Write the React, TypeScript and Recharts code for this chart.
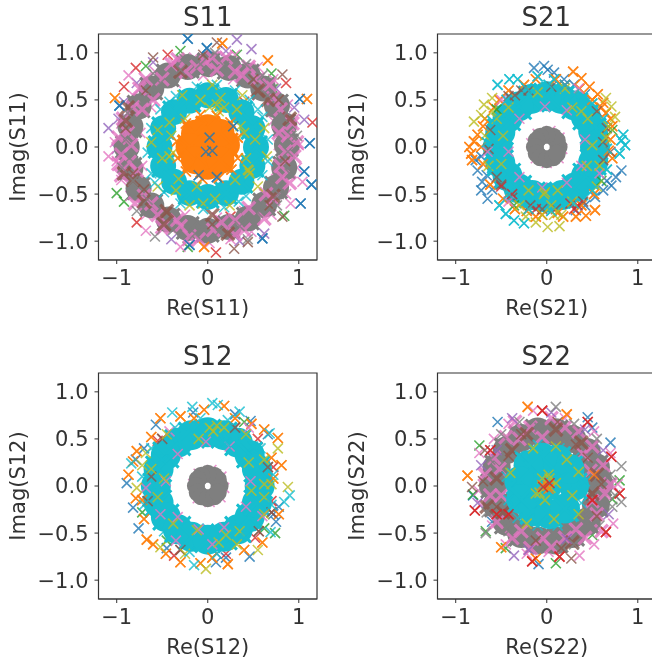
import { ReferenceArea, Scatter, ScatterChart, XAxis, YAxis } from "recharts"

type Pair = [number, number]

const xTicks = [-1, 0, 1]
const yTicks = [-1, -0.5, 0, 0.5, 1]

// The solid bands in the picture are thousands of overlapping crosses. The *Band arrays
// are read-off centres of those saturated areas, drawn as fat blobs under the crosses,
// and the *Dense arrays are heavier crosses for the colour patches inside them.

// S11
const s11GrayBand: Pair[] = [[.87,.02],[.84,.23],[.76,.44],[.61,.62],[.44,.76],[.23,.84],[.01,.88],[-.22,.85],[-.44,.76],[-.62,.62],[-.76,.43],[-.85,.22],[-.89,0],[-.85,-.23],[-.76,-.44],[-.62,-.62],[-.43,-.77],[-.22,-.86],[0,-.89],[.23,-.85],[.44,-.76],[.62,-.61],[.75,-.43],[.84,-.22]]
const s11PinkDense: Pair[] = [[.68,.66],[.2,.95],[-.33,.93],[-.75,.62],[-.98,.1],[-.95,-.08],[-.8,-.6],[-.5,-.85],[-.1,-.98],[.3,-.93],[.62,-.76],[.95,-.1],[.93,.25],[-.93,.3],[.3,.8],[-.5,.72],[.9,-.38],[-.3,-.84],[.8,.4],[.55,.72],[.1,.82],[-.12,.85],[-.6,.5],[-.88,.15],[-.78,-.25],[-.7,-.52],[-.2,-.95],[.15,-.8],[.45,-.65],[.72,-.55],[.85,-.05],[.78,.15],[-.95,-.3],[-.4,.88],[.45,.85],[-.55,-.72],[.4,-.88],[.98,.05],[-.82,.42],[.05,.95],[-.68,.72],[.82,-.32],[-.98,-.18],[.88,.12],[.72,.52],[.38,.76],[-.02,.9],[-.24,.8],[-.72,.4],[-.84,.02],[-.86,-.16],[-.62,-.6],[-.34,-.78],[.06,-.88],[.3,-.78],[.64,-.5],[.8,-.2]]
const s11BrownDense: Pair[] = [[-.82,-.35],[-.7,-.58],[-.88,.42],[-.9,.28],[-.48,-.82],[.05,-.72],[.55,.6],[.72,-.52],[-.3,.8],[.9,.3],[-.92,-.28],[-.45,-.68],[.22,-.92],[.66,.5]]
const s11CyanBand: Pair[] = [[.53,0],[.49,.2],[.37,.37],[.2,.5],[0,.55],[-.2,.49],[-.37,.37],[-.49,.2],[-.53,0],[-.49,-.2],[-.37,-.37],[-.2,-.49],[0,-.53],[.2,-.49],[.37,-.37],[.49,-.2]]
const s11OrangeBand: Pair[] = [[0,0],[.2,.02],[.14,.15],[0,.2],[-.14,.14],[-.2,0],[-.14,-.14],[0,-.2],[.14,-.14]]
const s11Pink: Pair[] = [[.95,.3],[.88,.45],[.72,.72],[.55,.85],[.3,.98],[.1,.96],[-.15,.95],[-.38,.9],[-.58,.8],[-.82,.55],[-.95,.25],[-1.02,.05],[-1,-.15],[-.95,-.35],[-.85,-.52],[-.68,-.72],[-.5,-.88],[-.22,-1],[.02,-1.02],[.25,-.98],[.48,-.9],[.7,-.72],[.86,-.5],[.98,-.22],[1,.02],[.78,.02],[.75,-.25],[.62,-.5],[.4,-.68],[.1,-.75],[-.25,-.72],[-.55,-.55],[-.72,-.2],[-.74,.15],[-.62,.42],[-.35,.68],[-.05,.76],[.28,.72],[.55,.55],[.72,.28],[-.87,.76],[-.68,-.89],[-.3,-1.06],[.91,-.6],[1.04,-.37],[-1.09,-.1]]
const s11Gray: Pair[] = [[.92,.12],[.82,.32],[.66,.55],[.42,.88],[.18,.86],[-.08,.88],[-.3,.82],[-.52,.68],[-.7,.52],[-.88,.36],[-.9,.08],[-.86,-.12],[-.82,-.36],[-.66,-.56],[-.38,-.88],[-.14,-.92],[.12,-.9],[.35,-.84],[.55,-.7],[.78,-.5],[.9,-.28],[.88,-.05],[-.6,.78],[.6,.76],[-.78,-.68],[.76,-.62],[.98,.12],[-.94,-.22],[.08,1],[-.26,.94],[.44,-.98],[-.58,-.95]]
const s11Brown: Pair[] = [[.78,.5],[.5,.72],[-.05,.98],[-.6,.95],[-.68,.6],[-.9,.2],[-.82,-.28],[-.7,-.45],[-.45,-.7],[.1,1.11],[.05,-.82],[.29,-1.08],[.44,-1.01],[.68,-.62],[.82,-.74],[.85,-.15],[.82,.77]]
const s11Purple: Pair[] = [[.32,1.14],[.48,1.04],[-1.09,.2],[-.6,.9],[.95,.42],[-1,-.02],[.35,-1],[-.78,.68],[-.92,.48],[.75,.62],[1.06,.29],[-.4,-.98],[.62,-.92],[-.98,.3],[-.72,.42],[.2,1.02]]
const s11Olive: Pair[] = [[.1,.45],[.18,.42],[-.08,.5],[-.25,.3],[.32,.4],[.4,.15],[.42,-.12],[.45,-.25],[.3,-.35],[.08,-.55],[-.12,-.42],[-.32,-.34],[-.42,-.1],[-.4,.12],[-.55,.18],[-.28,.55],[.05,.66],[.38,.55],[.62,.2],[.65,-.1],[.55,-.42],[.24,-.62],[-.2,-.62],[-.55,-.42],[-.62,.05],[-.38,-.06],[.12,.38],[.02,.42],[.14,.52],[-.42,.26],[-.5,-.12],[.46,-.28],[.44,-.24],[.36,.22],[-.35,-.46],[-.05,-.6],[.52,.08]]
const s11Cyan: Pair[] = [[.66,.08],[.66,-.15],[.6,.32],[.46,.5],[.3,.6],[.1,.66],[-.12,.64],[-.35,.54],[-.52,.4],[-.62,.2],[-.66,-.06],[-.62,-.28],[-.48,-.48],[-.3,-.6],[-.05,-.66],[.18,-.64],[.42,-.52],[.6,-.3],[.55,.4],[-.58,-.38],[.34,-.58],[-.42,.48]]
const s11Orange: Pair[] = [[.33,.1],[.33,-.12],[.25,.26],[.1,.33],[-.08,.34],[-.24,.25],[-.34,.06],[-.33,-.12],[-.24,-.26],[-.06,-.34],[.12,-.33],[.26,-.24],[.16,1.1],[1.09,.51],[-1.02,.52],[-.04,-1.06],[.66,.92]]
const s11Blue: Pair[] = [[-.22,1.15],[-.01,1.05],[-.97,.44],[.6,-.97],[1.02,-.6],[1.14,-.4],[1.06,-.26],[1.12,.04],[1.01,.51],[.02,.1],[-.02,-.05],[.05,-.04],[.28,.22],[-.1,-.3],[.1,-.32],[-.2,-1.04]]
const s11Green: Pair[] = [[-.68,.86],[-1,-.49],[-.92,-.58],[-.22,-1.06],[.84,-.73],[.7,.78],[.32,.98],[.72,.62],[-.3,1.02]]
const s11Red: Pair[] = [[-.44,.98],[-.79,.84],[-.92,.64],[-.78,-.8],[.09,-1.12],[.86,.68],[1.15,.26],[-.25,.78],[.4,.48],[.25,-.74]]

// S21
const s21GrayBand: Pair[] = [[.13,0],[.11,.07],[.07,.11],[0,.13],[-.07,.11],[-.11,.07],[-.13,0],[-.11,-.07],[-.07,-.11],[0,-.13],[.07,-.11],[.11,-.07]]
const s21CyanBand: Pair[] = [[.53,0],[.51,.17],[.43,.32],[.31,.44],[.16,.51],[0,.54],[-.17,.51],[-.31,.43],[-.43,.31],[-.51,.16],[-.54,0],[-.51,-.17],[-.43,-.31],[-.31,-.44],[-.16,-.51],[0,-.54],[.17,-.51],[.31,-.43],[.43,-.31],[.51,-.16]]
const s21Pink: Pair[] = [[.14,.1],[.04,.17],[-.1,.14],[-.17,.04],[-.12,-.12],[0,-.17],[.13,-.12],[.17,-.02],[-.02,.43],[.22,.39],[-.3,.3],[-.42,-.05],[-.3,-.32],[-.05,-.43],[.22,-.38],[.38,-.2],[.42,.08],[-.65,-.05],[-.5,.5],[.35,.62],[.58,-.28],[-.42,-.58]]
const s21Olive: Pair[] = [[-.8,.27],[-.72,.34],[-.69,.45],[-.6,.52],[.65,.52],[.71,.43],[.75,.32],[.01,-.85],[.14,-.84],[-.12,-.8],[-.23,-.74],[-.55,.3],[-.68,.12],[-.64,-.2],[.65,.1],[.58,-.2],[.45,.3],[.2,.62],[-.1,.58],[-.42,.42],[-.02,-.48],[-.03,-.5],[.28,-.58],[-.3,-.62],[.08,-.72],[.68,.22],[.5,.02],[.44,-.2],[.28,.42],[-.48,.12],[-.5,-.18],[-.2,-.46],[.12,-.46],[.38,.38],[.55,-.42],[-.6,.38],[.05,-.62],[-.05,-.72],[.16,-.72]]
const s21Orange: Pair[] = [[-.83,-.07],[-.85,0],[-.8,.06],[-.82,-.14],[-.76,.13],[.29,.8],[.38,.73],[.47,.64],[.56,.56],[.62,.47],[.65,.36],[.53,-.67],[.43,-.73],[.32,-.74],[.18,-.74],[-.05,-.72],[-.22,-.68],[-.68,.3],[-.58,.42],[-.42,.6],[-.25,.66],[.7,.08],[.72,-.12],[-.48,-.55],[-.7,.22],[-.72,0],[-.7,-.18],[.72,.22],[.7,.3],[.6,.42],[.5,.5],[.36,.62],[.1,.72],[-.12,.72],[.52,-.5],[.38,-.62],[.12,-.7],[-.12,-.74],[-.35,-.66],[-.62,-.4],[-.52,.5],[.68,-.04]]
const s21Blue: Pair[] = [[-.14,.84],[-.03,.86],[.08,.79],[.19,.72],[.01,.82],[.82,-.25],[.76,-.32],[.71,-.41],[.62,-.46],[.53,-.53],[.42,-.62],[.32,-.67],[-.65,-.55],[-.72,-.46],[-.71,-.37],[-.76,-.25],[-.78,-.14],[-.72,-.1],[.3,.66],[.42,.56],[-.66,-.3],[-.6,-.45],[.66,-.36]]
const s21Cyan: Pair[] = [[.84,.13],[.86,.02],[.8,-.07],[.82,.07],[-.25,-.81],[-.36,-.78],[-.45,-.71],[-.52,-.62],[-.54,.66],[-.41,.72],[-.32,.72],[-.1,.75],[.08,.72],[.2,.66],[.5,.46],[.62,.3],[.66,-.02],[.66,-.24],[.5,-.46],[.3,-.6],[.05,-.68],[-.2,-.66],[-.42,-.5],[-.6,-.22],[-.66,.05],[-.6,.28],[-.44,.5],[-.22,.62],[.02,.66],[-.12,.62],[.3,.56],[.14,.6]]
const s21Brown: Pair[] = [[-.35,.55],[.62,.05],[.7,-.05],[-.5,-.4],[-.18,-.62],[.1,-.66],[-.62,.18],[.55,.38],[.05,.64],[-.2,.6],[-.42,.54],[-.28,.6],[.66,.2],[.62,-.14],[.4,-.58],[-.05,-.66],[-.55,-.32],[-.38,-.54],[-.64,-.02]]
const s21Red: Pair[] = [[.3,-.66],[.26,-.6],[-.12,-.66],[-.38,-.5],[.2,.66],[.34,-.62],[-.5,-.42]]
const s21Green: Pair[] = [[.72,.18],[-.55,.4],[.6,-.36],[-.36,-.62]]

// S12
const s12GrayBand: Pair[] = [[.13,0],[.11,.07],[.07,.11],[0,.13],[-.07,.11],[-.11,.07],[-.13,0],[-.11,-.07],[-.07,-.11],[0,-.13],[.07,-.11],[.11,-.07]]
const s12CyanBand: Pair[] = [[.57,0],[.54,.18],[.46,.33],[.33,.46],[.18,.54],[0,.57],[-.18,.54],[-.33,.46],[-.46,.33],[-.54,.18],[-.57,0],[-.54,-.18],[-.46,-.33],[-.33,-.46],[-.18,-.54],[0,-.57],[.18,-.54],[.33,-.46],[.46,-.33],[.54,-.18]]
const s12Pink: Pair[] = [[.15,.1],[.04,.17],[-.1,.13],[-.16,.02],[-.11,-.13],[.02,-.17],[.14,-.12],[.18,-.02],[-.02,.47],[.24,.42],[-.33,.34],[-.46,.05],[-.33,-.33],[-.1,-.46],[.18,-.44],[.42,-.22],[.47,.05],[-.68,-.02],[-.42,.58],[.45,.62],[.6,-.32],[-.35,-.58],[.05,-.62],[-.52,-.3]]
const s12Olive: Pair[] = [[.77,.4],[.88,-.01],[.55,-.68],[-.02,-.88],[-.52,-.65],[-.62,.18],[-.68,.35],[-.45,.55],[.02,.62],[.18,.62],[.42,.55],[.62,.28],[.62,-.12],[.62,-.3],[.35,-.48],[.12,-.6],[-.12,-.47],[-.55,-.12],[-.78,-.02],[-.72,.22],[.7,.02],[.32,-.62],[-.25,-.72],[.1,.64],[.06,.58],[.45,.25],[.48,-.05],[-.48,.08],[-.38,-.4],[.2,-.52],[-.1,.5],[.62,.02]]
const s12Orange: Pair[] = [[-.78,.37],[-.87,.12],[-.82,.26],[-.79,-.13],[-.67,-.57],[-.7,-.35],[-.52,.72],[-.04,.81],[.18,.85],[.77,.51],[.81,.22],[.22,-.83],[-.3,-.81],[-.3,.74],[-.62,.52],[.3,.72],[.62,.6],[.7,.3],[.78,-.3],[.6,-.6],[-.08,-.82],[-.6,-.62],[-.72,-.15],[-.15,.72],[.48,.66],[.72,.08],[.4,-.68],[-.46,-.72],[.05,-.76]]
const s12Blue: Pair[] = [[-.89,.03],[-.82,-.23],[-.76,-.45],[-.57,.65],[-.79,.28],[.47,.69],[.46,-.75],[.09,-.81],[.72,-.3],[.66,.55],[-.16,.78],[.3,.76],[.75,-.38],[-.45,-.66],[-.7,.4],[.1,-.72],[.2,-.76],[.78,-.22]]
const s12Cyan: Pair[] = [[-.39,.78],[-.17,.84],[.05,.88],[.11,.86],[.35,.79],[.68,.56],[.9,-.1],[.84,-.17],[-.15,-.84],[-.84,.24],[.69,-.49],[.58,.4],[.72,.12],[.7,-.2],[.42,-.55],[.1,-.72],[-.2,-.7],[-.48,-.48],[-.7,-.2],[-.72,.1],[-.62,.4],[-.36,.62],[-.08,.72],[.22,.7],[.2,.46],[.5,.42],[-.5,.28]]
const s12Red: Pair[] = [[-.37,-.74],[.2,-.72],[.72,.2],[.7,-.16],[.52,-.55],[-.55,.48],[.55,.5]]
const s12Green: Pair[] = [[.74,-.5],[-.72,-.28],[.4,.68],[-.45,-.58],[.62,-.45]]
const s12Brown: Pair[] = [[.66,.2],[.7,-.28],[-.62,.1],[-.3,-.68],[.3,.62],[-.5,.5],[.56,-.48],[-.66,-.16]]

// S22
const s22GrayBand: Pair[] = [[.58,.02],[.54,.2],[.44,.36],[.28,.5],[.1,.57],[-.1,.58],[-.28,.51],[-.44,.38],[-.55,.2],[-.59,0],[-.55,-.2],[-.44,-.38],[-.28,-.51],[-.1,-.58],[.1,-.58],[.28,-.51],[.44,-.38],[.54,-.2]]
const s22PinkDense: Pair[] = [[.5,.42],[.2,.62],[-.18,.62],[-.58,.3],[-.62,-.1],[-.38,-.55],[.05,-.65],[.42,-.55],[.64,-.08],[.62,.22],[-.45,.52],[.35,.58],[-.05,.52],[.55,-.3],[-.55,-.38],[.2,-.55],[-.18,-.66],[.6,-.48],[-.68,.12],[.7,.02],[-.35,.68],[.05,.72],[.48,.16],[.4,.34],[-.3,.5],[-.52,.18],[-.5,-.1],[-.28,-.48],[-.04,-.56],[.32,-.46],[.5,-.16]]
const s22BrownDense: Pair[] = [[-.55,.08],[-.48,-.28],[.5,-.08],[.55,.12],[.28,-.6],[-.22,.55],[.1,.6],[-.66,-.22],[.38,.46],[-.38,.38]]
const s22CyanBand: Pair[] = [[.3,0],[.25,.18],[.12,.28],[-.05,.3],[-.2,.22],[-.3,.05],[-.28,-.14],[-.15,-.27],[.03,-.3],[.2,-.24],[0,0]]
const s22Pink: Pair[] = [[-.74,.35],[-.68,.15],[-.72,-.2],[-.6,-.42],[-.45,-.62],[-.22,-.72],[.36,-.74],[.73,-.4],[.78,.02],[.7,.35],[.52,.58],[.2,.72],[-.15,.8],[-.42,.66],[-.58,.5],[.52,-.62],[.62,-.28],[.02,-.7],[.42,-.32],[-.32,.42],[-.75,-.05]]
const s22Gray: Pair[] = [[.1,.84],[.82,.21],[.82,-.17],[-.67,-.5],[-.66,-.28],[-.62,.28],[.7,.12],[.72,-.22],[.55,.5],[.3,.66],[-.3,.68],[-.5,.55],[-.42,-.48],[.3,-.62],[.58,-.42],[-.08,.62],[.75,-.1]]
const s22Brown: Pair[] = [[-.82,-.01],[.27,-.77],[-.7,.05],[-.55,-.22],[.55,-.32],[.6,.02],[.45,.3],[.12,.68],[-.28,.55],[-.12,-.58],[.16,-.66],[-.68,.38],[.32,.44],[-.42,.32]]
const s22Purple: Pair[] = [[-.36,-.74],[-.76,-.18],[-.72,.22],[-.55,.38],[-.38,.72],[.05,.78],[.42,.6],[.68,-.3],[.22,-.56],[-.2,-.68],[.62,.38]]
const s22Olive: Pair[] = [[-.08,-.07],[-.12,-.08],[.03,.08],[.02,.12],[.04,-.02],[.1,.03],[-.02,-.15],[.1,.42],[-.15,.4],[.28,-.1],[-.4,.14],[.22,.28],[-.22,-.4],[.35,.15],[.08,-.35],[-.05,.08],[.35,-.3]]
const s22Cyan: Pair[] = [[.42,.05],[.38,-.18],[.3,.3],[.14,.4],[-.1,.44],[-.3,.32],[-.44,.1],[-.42,-.15],[-.32,-.34],[-.1,-.42],[.12,-.42],[.3,-.32]]
const s22Orange: Pair[] = [[-.87,.11],[-.21,.84],[-.5,-.65],[.01,0],[.02,-.03],[-.05,.01],[.22,.76],[-.12,-.77],[.52,.12]]
const s22Red: Pair[] = [[-.05,.8],[-.79,-.26],[-.16,-.8],[.65,-.49],[.71,.31],[.5,-.15],[-.04,-.01],[-.55,-.3],[.45,.68],[.8,-.08],[-.62,.38],[-.42,-.3],[.14,-.75],[.03,.03]]
const s22Blue: Pair[] = [[-.54,.68],[.45,.73],[-.09,-.83],[.7,.46],[-.81,-.1],[.5,.62],[-.6,-.38]]
const s22Green: Pair[] = [[-.74,.43],[.8,.06],[-.81,-.09],[.1,-.82],[-.67,-.48],[-.45,-.66],[.5,-.52],[.72,-.14],[-.02,-.66],[-.42,.5]]

const BLUE = "#1f77b4", ORANGE = "#ff7f0e", GREEN = "#2ca02c", RED = "#d62728", PURPLE = "#9467bd"
const BROWN = "#8c564b", PINK = "#e377c2", GRAY = "#7f7f7f", OLIVE = "#bcbd22", CYAN = "#17becf"

type Layer = { points: Pair[]; color: string; blob?: number; heavy?: boolean; smooth?: boolean }

const panels: { name: string; left: number; top: number; layers: Layer[] }[] = [
  {
    name: "S11", left: 0, top: 0,
    layers: [
      { points: s11Blue, color: BLUE }, { points: s11Orange, color: ORANGE }, { points: s11Green, color: GREEN }, { points: s11Red, color: RED },
      { points: s11Purple, color: PURPLE }, { points: s11Pink, color: PINK }, { points: s11GrayBand, color: GRAY, blob: 13 },
      { points: s11PinkDense, color: PINK, heavy: true }, { points: s11BrownDense, color: BROWN, heavy: true },
      { points: s11Brown, color: BROWN }, { points: s11Gray, color: GRAY },
      { points: s11CyanBand, color: CYAN, blob: 13 }, { points: s11Olive, color: OLIVE }, { points: s11Cyan, color: CYAN },
      { points: s11OrangeBand, color: ORANGE, blob: 14 }, { points: s11Orange, color: ORANGE }, { points: s11Blue, color: BLUE },
    ],
  },
  {
    name: "S21", left: 338.5, top: 0,
    layers: [
      { points: s21Blue, color: BLUE }, { points: s21Orange, color: ORANGE }, { points: s21Cyan, color: CYAN },
      { points: s21CyanBand, color: CYAN, blob: 15 }, { points: s21Orange, color: ORANGE }, { points: s21Brown, color: BROWN }, { points: s21Green, color: GREEN }, { points: s21Red, color: RED },
      { points: s21Pink, color: PINK }, { points: s21Olive, color: OLIVE }, { points: s21Cyan, color: CYAN }, { points: s21GrayBand, color: GRAY, blob: 9, smooth: true },
    ],
  },
  {
    name: "S12", left: 0, top: 339,
    layers: [
      { points: s12Blue, color: BLUE }, { points: s12Orange, color: ORANGE }, { points: s12Green, color: GREEN }, { points: s12Red, color: RED },
      { points: s12Brown, color: BROWN }, { points: s12CyanBand, color: CYAN, blob: 15 }, { points: s12Orange, color: ORANGE }, { points: s12Brown, color: BROWN },
      { points: s12Pink, color: PINK }, { points: s12Olive, color: OLIVE }, { points: s12Cyan, color: CYAN }, { points: s12GrayBand, color: GRAY, blob: 9, smooth: true },
    ],
  },
  {
    name: "S22", left: 338.5, top: 339,
    layers: [
      { points: s22Blue, color: BLUE }, { points: s22Green, color: GREEN }, { points: s22Orange, color: ORANGE }, { points: s22Pink, color: PINK }, { points: s22GrayBand, color: GRAY, blob: 14 },
      { points: s22PinkDense, color: PINK, heavy: true }, { points: s22BrownDense, color: BROWN, heavy: true }, { points: s22Purple, color: PURPLE }, { points: s22Red, color: RED }, { points: s22Brown, color: BROWN },
      { points: s22Gray, color: GRAY }, { points: s22CyanBand, color: CYAN, blob: 15 }, { points: s22Cyan, color: CYAN },
      { points: s22Olive, color: OLIVE }, { points: s22Orange, color: ORANGE }, { points: s22Red, color: RED },
    ],
  },
]

const FONT = "DejaVu Sans"
const INK = "#333"

const formatTick = (v: number, digits: number) => v.toFixed(digits).replace("-", "\u2212")

const crossPath = (cx: number, cy: number, arm: number) =>
  `M${cx - arm} ${cy - arm}L${cx + arm} ${cy + arm}M${cx - arm} ${cy + arm}L${cx + arm} ${cy - arm}`

const crossShape = (color: string, heavy?: boolean) => (props: any) => (
  <path
    d={crossPath(props.cx, props.cy, heavy ? 6.5 : 5)}
    stroke={color}
    strokeWidth={heavy ? 3.2 : 1.6}
    strokeOpacity={0.8}
    fill="none"
  />
)

// round core with a cross over it, so the edge of a band stays jagged
const blobShape = (color: string, radius: number, smooth?: boolean) => (props: any) => (
  <g>
    <circle cx={props.cx} cy={props.cy} r={radius} fill={color} />
    {!smooth && <path d={crossPath(props.cx, props.cy, radius * 0.85)} stroke={color} strokeWidth={3} fill="none" />}
  </g>
)

function Panel({ name, left, top, layers }: { name: string; left: number; top: number; layers: Layer[] }) {
  const tickStyle = { fontFamily: FONT, fontSize: 21, fill: INK }
  const labelStyle = { fontFamily: FONT, fontSize: 21, fill: INK, textAnchor: "middle" as const }
  return (
    <div style={{ position: "absolute", left, top, width: 326, height: 325 }}>
      <div style={{ position: "absolute", left: 98.5, top: 2, width: 218.5, textAlign: "center", fontFamily: FONT, fontSize: 26, lineHeight: "30px", color: INK }}>
        {name}
      </div>
      <ScatterChart width={326} height={325} margin={{ top: 34, right: 9, bottom: 10, left: 38.5 }}>
        <XAxis
          type="number"
          dataKey="x"
          domain={[-1.2, 1.2]}
          ticks={xTicks}
          allowDataOverflow
          height={55}
          tickSize={4}
          tickMargin={6}
          tick={tickStyle}
          stroke={INK}
          tickFormatter={(v: number) => formatTick(v, 0)}
          label={{ value: `Re(${name})`, position: "insideBottom", offset: 0, style: labelStyle }}
        />
        <YAxis
          type="number"
          dataKey="y"
          domain={[-1.2, 1.2]}
          ticks={yTicks}
          allowDataOverflow
          width={60}
          tickSize={4}
          tickMargin={6}
          tick={tickStyle}
          stroke={INK}
          tickFormatter={(v: number) => formatTick(v, 1)}
          label={{ value: `Imag(${name})`, angle: -90, position: "insideLeft", offset: -20.5, style: labelStyle }}
        />
        {layers.map((layer, i) => (
          <Scatter
            key={i}
            data={layer.points.map(([x, y]) => ({ x, y }))}
            isAnimationActive={false}
            shape={layer.blob ? blobShape(layer.color, layer.blob, layer.smooth) : crossShape(layer.color, layer.heavy)}
          />
        ))}
        <ReferenceArea x1={-1.2} x2={1.2} y1={-1.2} y2={1.2} fill="none" stroke={INK} strokeWidth={1.2} />
      </ScatterChart>
    </div>
  )
}

export default function App() {
  return (
    <div style={{ position: "absolute", left: 0, top: 0, width: 652, height: 664, overflow: "hidden", background: "#fff", filter: "blur(0.5px)" }}>
      {panels.map((panel) => (
        <Panel key={panel.name} {...panel} />
      ))}
    </div>
  )
}
